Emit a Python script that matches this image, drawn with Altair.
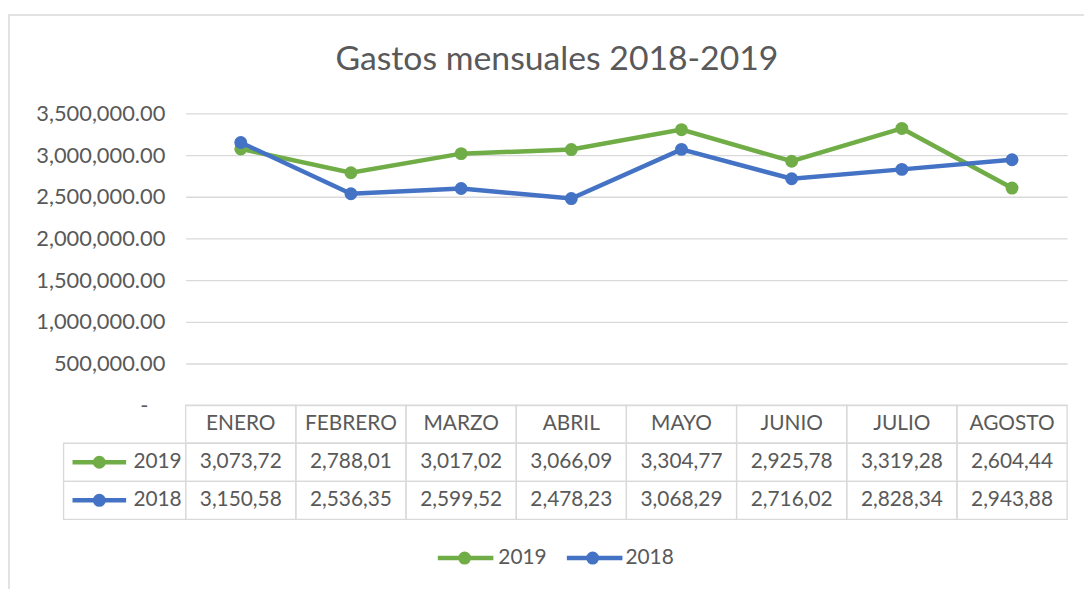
import altair as alt
import pandas as pd

months = ["ENERO", "FEBRERO", "MARZO", "ABRIL", "MAYO", "JUNIO", "JULIO", "AGOSTO"]
years = ["2019", "2018"]
v2019 = [3073720, 2788010, 3017020, 3066090, 3304770, 2925780, 3319280, 2604440]
v2018 = [3150580, 2536350, 2599520, 2478230, 3068290, 2716020, 2828340, 2943880]
colors = ["#70ad47", "#4472c4"]
ticks = [0, 500000, 1000000, 1500000, 2000000, 2500000, 3000000, 3500000]

FONT = "Lato"
GREY = "#595959"
LINE = "#d9d9d9"


def fmt(v):
    return f"{v / 1000:,.2f}".replace(".", ",")


long_rows = []
tab_rows = []
for m, a, b in zip(months, v2019, v2018):
    long_rows.append({"month": m, "year": "2019", "value": a})
    long_rows.append({"month": m, "year": "2018", "value": b})
    tab_rows.append({"month": m, "row": "hdr", "label": m})
    tab_rows.append({"month": m, "row": "2019", "label": fmt(a)})
    tab_rows.append({"month": m, "row": "2018", "label": fmt(b)})
long = pd.DataFrame(long_rows)
tab = pd.DataFrame(tab_rows)
keydf = pd.DataFrame({"year": years, "row": years})
one = pd.DataFrame({"k": [0]})

xscale = alt.Scale(type="band", domain=months, paddingInner=0, paddingOuter=0)
X = alt.X("month:N", sort=months, scale=xscale, axis=None)
Xc = alt.X("month:N", sort=months, scale=xscale, axis=None, bandPosition=0.5)

yaxis = alt.Axis(
    values=ticks,
    labelExpr="datum.value == 0 ? '-' : format(datum.value, ',.2f')",
    grid=True, gridColor=LINE, gridWidth=1.3,
    domain=False, ticks=False,
    labelFont=FONT, labelFontSize=22, labelColor=GREY,
    labelPadding={"condition": {"test": "datum.value == 0", "value": 38}, "value": 21},
    title=None,
)
Y = alt.Y("value:Q", scale=alt.Scale(domain=[0, 3500000], range=[294, 0], nice=False), axis=yaxis)

color = alt.Color("year:N", scale=alt.Scale(domain=years, range=colors), legend=None)


def series(y):
    base = alt.Chart(long).transform_filter(alt.datum.year == y)
    line = base.mark_line(strokeWidth=4.5).encode(x=Xc, y=Y, color=color)
    pts = base.mark_circle(size=170, opacity=1).encode(x=Xc, y=Y, color=color)
    return alt.layer(line, pts)


plot = alt.layer(series("2019"), series("2018"))

tscale = alt.Scale(type="band", domain=["hdr", "2019", "2018"], range=[294, 409],
                   paddingInner=0, paddingOuter=0)
Yt = alt.Y("row:N", scale=tscale, axis=None)
Ytc = alt.Y("row:N", scale=tscale, axis=None, bandPosition=0.5)

cells = alt.Chart(tab).mark_rect(filled=False, color=LINE, strokeWidth=1.3).encode(x=X, y=Yt)
texts = alt.Chart(tab).mark_text(font=FONT, fontSize=21, color=GREY, baseline="middle").encode(
    x=Xc, y=Ytc, text="label:N")
keycells = alt.Chart(keydf).mark_rect(filled=False, color=LINE, strokeWidth=1.3).encode(
    x=alt.value(-123), x2=alt.value(0), y=Yt)
keylines = alt.Chart(keydf).mark_rule(strokeWidth=4.5).encode(
    x=alt.value(-114), x2=alt.value(-60), y=Ytc, color=color)
keypts = alt.Chart(keydf).mark_circle(size=170, opacity=1).encode(
    x=alt.value(-87), y=Ytc, color=color)
keytext = alt.Chart(keydf).mark_text(font=FONT, fontSize=21, color=GREY, align="right",
                                     baseline="middle").encode(
    x=alt.value(-4), y=Ytc, text="year:N")
table = alt.layer(cells, texts, keycells, keylines, keypts, keytext)

legpos = {"2019": (254, 310, 281, 315), "2018": (384, 440, 410, 443)}
LEGY = 448
legend_layers = []
for yname in years:
    x0, x1, cx, tx = legpos[yname]
    base = alt.Chart(keydf).transform_filter(alt.datum.year == yname)
    legend_layers.append(base.mark_rule(strokeWidth=4.5).encode(
        x=alt.value(x0), x2=alt.value(x1), y=alt.value(LEGY), color=color))
    legend_layers.append(base.mark_circle(size=170, opacity=1).encode(
        x=alt.value(cx), y=alt.value(LEGY), color=color))
    legend_layers.append(base.mark_text(font=FONT, fontSize=21, color=GREY, align="left",
                                        baseline="middle").encode(
        x=alt.value(tx), y=alt.value(LEGY), text="year:N"))

frame = alt.Chart(one).mark_rect(filled=False, color=LINE, strokeWidth=1.5).encode(
    x=alt.value(-178), x2=alt.value(930), y=alt.value(-99), y2=alt.value(500))

chart = alt.layer(frame, plot, table, *legend_layers).resolve_scale(y="independent").properties(
    width=888,
    height=409,
    padding={"left": 179, "top": 104, "right": 17, "bottom": 68},
    autosize=alt.AutoSizeParams(type="none"),
    title=alt.TitleParams("Gastos mensuales 2018-2019", font=FONT, fontSize=34,
                          fontWeight="normal", color=GREY, anchor="middle", dx=-70,
                          offset=-63),
).configure_view(stroke="transparent")

chart.save("out.html", embed_options={"renderer": "svg", "actions": False})
